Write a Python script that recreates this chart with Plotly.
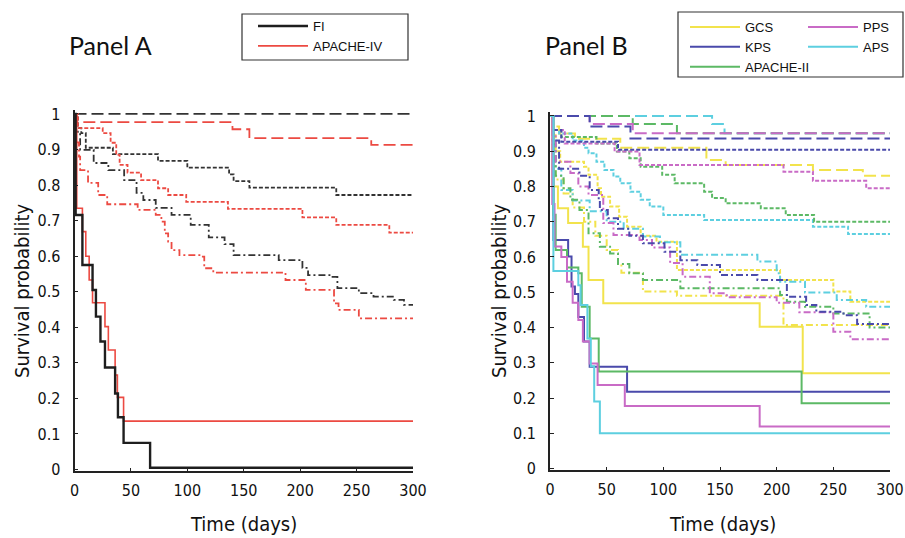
import plotly.graph_objects as go

# ---------------- DATA ----------------
# Panel A : FI (black) and APACHE-IV (red), four risk groups each
FI_LONG_T = [0, 300]
FI_LONG_S = [1.0, 1.0]
FI_DOT_T = [0, 3, 6, 10, 34, 74, 100, 137, 141, 155, 232, 300]
FI_DOT_S = [1, 0.96, 0.946, 0.905, 0.887, 0.868, 0.849, 0.83, 0.811, 0.793, 0.772, 0.772]
FI_DASHDOT_T = [0, 1, 5, 17, 30, 44, 55, 61, 72, 86, 103, 119, 133, 141, 181, 202, 207, 226, 233, 252, 265, 283, 292, 300]
FI_DASHDOT_S = [1, 0.95, 0.899, 0.862, 0.842, 0.814, 0.778, 0.758, 0.736, 0.716, 0.688, 0.653, 0.634, 0.603, 0.589, 0.567, 0.547, 0.542, 0.51, 0.496, 0.486, 0.477, 0.463, 0.463]
FI_SOLID_T = [0, 1, 7, 16, 19, 23, 27, 36, 38.5, 43.5, 67, 300]
FI_SOLID_S = [1, 0.716, 0.575, 0.505, 0.43, 0.36, 0.287, 0.214, 0.147, 0.075, 0.005, 0.005]

AP4_LONG_T = [0, 2, 140, 155, 263, 300]
AP4_LONG_S = [1, 0.977, 0.957, 0.932, 0.913, 0.913]
AP4_DOT_T = [0, 3, 25, 32, 37, 40, 47, 59, 74, 83, 99, 136, 202, 232, 279, 300]
AP4_DOT_S = [1, 0.96, 0.946, 0.919, 0.885, 0.857, 0.835, 0.814, 0.791, 0.772, 0.753, 0.733, 0.709, 0.688, 0.666, 0.666]
AP4_DASHDOT_T = [0, 1, 4, 5, 12, 21, 29, 56, 72, 77, 80, 83, 86, 93, 112, 115, 123, 187, 205, 230, 234, 252, 300]
AP4_DASHDOT_S = [1, 0.92, 0.88, 0.842, 0.806, 0.772, 0.746, 0.73, 0.716, 0.697, 0.664, 0.641, 0.617, 0.603, 0.599, 0.566, 0.554, 0.533, 0.505, 0.467, 0.449, 0.425, 0.425]
AP4_SOLID_T = [0, 2, 7, 10, 13, 16, 27, 30, 36, 38, 43.5, 300]
AP4_SOLID_S = [1, 0.735, 0.669, 0.6, 0.533, 0.469, 0.402, 0.336, 0.266, 0.203, 0.136, 0.136]

# Panel B : GCS, KPS, APACHE-II, PPS, APS
GCS_LONG_T = [0, 2, 8, 22, 62, 138, 155, 232, 276, 300]
GCS_LONG_S = [1, 0.97, 0.95, 0.935, 0.91, 0.875, 0.861, 0.847, 0.83, 0.83]
GCS_DOT_T = [0, 2, 5, 9, 30, 34, 42, 45, 53, 61, 68, 80, 94, 112, 203, 250, 265, 300]
GCS_DOT_S = [1, 0.95, 0.9, 0.87, 0.856, 0.833, 0.795, 0.771, 0.743, 0.714, 0.686, 0.66, 0.643, 0.563, 0.535, 0.502, 0.473, 0.473]
GCS_DASHDOT_T = [0, 2, 5, 12, 20, 30, 40, 50, 60, 63, 82, 112, 206, 300]
GCS_DASHDOT_S = [1, 0.9, 0.82, 0.78, 0.74, 0.7, 0.66, 0.62, 0.58, 0.555, 0.502, 0.49, 0.407, 0.407]
GCS_SOLID_T = [0, 2, 7, 16, 29, 34, 47, 185, 223, 300]
GCS_SOLID_S = [1, 0.8, 0.738, 0.696, 0.629, 0.535, 0.469, 0.402, 0.27, 0.27]

KPS_LONG_T = [0, 35, 71, 300]
KPS_LONG_S = [1, 0.97, 0.936, 0.936]
KPS_DOT_T = [0, 2, 10, 60, 300]
KPS_DOT_S = [1, 0.96, 0.927, 0.904, 0.904]
KPS_DASHDOT_T = [0, 2, 8, 26, 35, 43, 44, 51, 60, 70, 82, 101, 115, 130, 150, 183, 209, 226, 235, 259, 271, 300]
KPS_DASHDOT_S = [1, 0.93, 0.85, 0.83, 0.79, 0.762, 0.733, 0.71, 0.68, 0.66, 0.639, 0.615, 0.591, 0.577, 0.549, 0.535, 0.487, 0.464, 0.445, 0.435, 0.41, 0.41]
KPS_SOLID_T = [0, 3, 16, 19, 22, 25, 30, 35, 68, 300]
KPS_SOLID_S = [1, 0.648, 0.601, 0.516, 0.495, 0.43, 0.36, 0.289, 0.218, 0.218]

AP2_LONG_T = [0, 73, 112, 300]
AP2_LONG_S = [1, 0.977, 0.951, 0.951]
AP2_DOT_T = [0, 2, 10, 41, 59, 70, 80, 99, 110, 136, 143, 155, 186, 208, 233, 300]
AP2_DOT_S = [1, 0.96, 0.94, 0.922, 0.899, 0.88, 0.856, 0.833, 0.809, 0.785, 0.767, 0.752, 0.738, 0.719, 0.7, 0.7]
AP2_DASHDOT_T = [0, 2, 5, 12, 18, 26, 34, 44, 53, 60, 70, 82, 115, 203, 209, 225, 250, 282, 300]
AP2_DASHDOT_S = [1, 0.92, 0.83, 0.795, 0.762, 0.733, 0.667, 0.629, 0.61, 0.58, 0.554, 0.535, 0.511, 0.492, 0.473, 0.459, 0.44, 0.4, 0.4]
AP2_SOLID_T = [0, 3, 5, 15, 25, 28, 35, 43, 222, 300]
AP2_SOLID_S = [1, 0.72, 0.62, 0.57, 0.554, 0.459, 0.369, 0.275, 0.185, 0.185]

PPS_LONG_T = [0, 35, 73, 300]
PPS_LONG_S = [1, 0.977, 0.951, 0.951]
PPS_DOT_T = [0, 2, 13, 57, 79, 206, 232, 279, 300]
PPS_DOT_S = [1, 0.96, 0.922, 0.899, 0.861, 0.842, 0.816, 0.795, 0.795]
PPS_DASHDOT_T = [0, 2, 5, 18, 25, 34, 47, 56, 79, 90, 106, 117, 141, 156, 200, 220, 250, 265, 300]
PPS_DASHDOT_S = [1, 0.95, 0.87, 0.838, 0.8, 0.776, 0.696, 0.662, 0.648, 0.627, 0.583, 0.544, 0.497, 0.486, 0.47, 0.443, 0.388, 0.367, 0.367]
PPS_SOLID_T = [0, 2, 4, 10, 15, 20, 25, 29, 35, 42, 66, 185, 300]
PPS_SOLID_S = [1, 0.75, 0.63, 0.6, 0.53, 0.47, 0.421, 0.36, 0.298, 0.237, 0.177, 0.119, 0.119]

APS_LONG_T = [0, 143, 154, 300]
APS_LONG_S = [1, 0.977, 0.951, 0.951]
APS_DOT_T = [0, 2, 8, 20, 30, 34, 41, 48, 56, 62, 71, 80, 88, 100, 136, 232, 263, 300]
APS_DOT_S = [1, 0.96, 0.95, 0.93, 0.91, 0.894, 0.87, 0.847, 0.828, 0.809, 0.785, 0.762, 0.743, 0.719, 0.705, 0.686, 0.665, 0.665]
APS_DASHDOT_T = [0, 2, 5, 10, 20, 35, 50, 65, 82, 97, 115, 183, 200, 203, 225, 253, 279, 300]
APS_DASHDOT_S = [1, 0.93, 0.85, 0.79, 0.76, 0.73, 0.7, 0.68, 0.658, 0.642, 0.606, 0.587, 0.554, 0.53, 0.499, 0.478, 0.459, 0.459]
APS_SOLID_T = [0, 3, 25, 27, 33, 36, 39, 44, 300]
APS_SOLID_S = [1, 0.56, 0.52, 0.464, 0.369, 0.29, 0.19, 0.1, 0.1]

X_TICKS = [0, 50, 100, 150, 200, 250, 300]
Y_TICKS = [0, 0.1, 0.2, 0.3, 0.4, 0.5, 0.6, 0.7, 0.8, 0.9, 1]
Y_TICK_TEXT = ["0", "0.1", "0.2", "0.3", "0.4", "0.5", "0.6", "0.7", "0.8", "0.9", "1"]

# ---------------- STYLE ----------------
W, H = 905, 538
LONG = "12px,5px"
DOT = "4px,2px"
DASHDOT = "7px,3px,2px,3px"
NARROW = "Liberation Sans Narrow, DejaVu Sans Condensed, Arial Narrow, sans-serif"
SANS = "Liberation Sans, Arial, sans-serif"

C_FI = "#1e1e1e"
C_FI_D = "#333333"
C_AP4 = "#ec4a42"
C_GCS = "#f2e34c"
C_KPS = "#4a4aab"
C_AP2 = "#5cb965"
C_PPS = "#c96bc6"
C_APS = "#5dcfe0"


def fx(p):
    return p / W


def fy(p):
    return 1 - p / H


fig = go.Figure()


def add(t, s, color, dash, width, ax, name=None, legend=None, rank=1000):
    fig.add_trace(go.Scatter(
        x=t, y=s, mode="lines",
        line=dict(shape="hv", color=color, dash=dash, width=width),
        xaxis="x" if ax == 1 else "x2",
        yaxis="y" if ax == 1 else "y2",
        name=name if name else "",
        showlegend=name is not None,
        legend=legend if legend else "legend",
        legendrank=rank,
        hoverinfo="skip",
    ))


# Panel A
add(FI_LONG_T, FI_LONG_S, C_FI_D, LONG, 1.8, 1)
add(AP4_LONG_T, AP4_LONG_S, C_AP4, LONG, 1.8, 1)
add(FI_DOT_T, FI_DOT_S, C_FI_D, DOT, 1.8, 1)
add(AP4_DOT_T, AP4_DOT_S, C_AP4, DOT, 1.8, 1)
add(FI_DASHDOT_T, FI_DASHDOT_S, C_FI_D, DASHDOT, 1.8, 1)
add(AP4_DASHDOT_T, AP4_DASHDOT_S, C_AP4, DASHDOT, 1.8, 1)
add(AP4_SOLID_T, AP4_SOLID_S, C_AP4, "solid", 1.6, 1, "APACHE-IV", "legend", 2)
add(FI_SOLID_T, FI_SOLID_S, C_FI, "solid", 2.4, 1, "FI", "legend", 1)

# Panel B (dashed groups first)
for t, s, c in [(GCS_LONG_T, GCS_LONG_S, C_GCS), (APS_LONG_T, APS_LONG_S, C_APS),
                (AP2_LONG_T, AP2_LONG_S, C_AP2), (PPS_LONG_T, PPS_LONG_S, C_PPS),
                (KPS_LONG_T, KPS_LONG_S, C_KPS)]:
    add(t, s, c, LONG, 2, 2)
for t, s, c in [(GCS_DOT_T, GCS_DOT_S, C_GCS), (APS_DOT_T, APS_DOT_S, C_APS),
                (AP2_DOT_T, AP2_DOT_S, C_AP2), (PPS_DOT_T, PPS_DOT_S, C_PPS),
                (KPS_DOT_T, KPS_DOT_S, C_KPS)]:
    add(t, s, c, DOT, 2, 2)
for t, s, c in [(GCS_DASHDOT_T, GCS_DASHDOT_S, C_GCS), (APS_DASHDOT_T, APS_DASHDOT_S, C_APS),
                (AP2_DASHDOT_T, AP2_DASHDOT_S, C_AP2), (PPS_DASHDOT_T, PPS_DASHDOT_S, C_PPS),
                (KPS_DASHDOT_T, KPS_DASHDOT_S, C_KPS)]:
    add(t, s, c, DASHDOT, 2, 2)

add(GCS_SOLID_T, GCS_SOLID_S, C_GCS, "solid", 2, 2, "GCS", "legend2", 1)
add(KPS_SOLID_T, KPS_SOLID_S, C_KPS, "solid", 2, 2, "KPS", "legend2", 2)
add(AP2_SOLID_T, AP2_SOLID_S, C_AP2, "solid", 2, 2, "APACHE-II", "legend2", 3)
add(PPS_SOLID_T, PPS_SOLID_S, C_PPS, "solid", 2, 2, "PPS", "legend3", 1)
add(APS_SOLID_T, APS_SOLID_S, C_APS, "solid", 2, 2, "APS", "legend3", 2)

axis_common = dict(
    showgrid=False, zeroline=False, showline=True, linecolor="#222222", linewidth=1.6,
    ticks="inside", ticklen=4, tickcolor="#222222", tickwidth=1,
    tickfont=dict(family=NARROW, size=16, color="#111111"),
)

legend_common = dict(
    bgcolor="rgba(0,0,0,0)", borderwidth=0, orientation="v", itemwidth=50,
    font=dict(family=SANS, size=13, color="#111111"),
    xanchor="left", yanchor="top", traceorder="normal", tracegroupgap=0,
)


def note(text, x, y, size, family, angle=0):
    return dict(text=text, x=fx(x), y=fy(y), xref="paper", yref="paper", showarrow=False,
                xanchor="center", yanchor="middle", textangle=angle,
                font=dict(family=family, size=size, color="#111111"))


fig.update_layout(
    width=W, height=H,
    margin=dict(l=0, r=0, t=0, b=0, autoexpand=False),
    paper_bgcolor="white", plot_bgcolor="white",
    xaxis=dict(domain=[fx(74.5), fx(413)], range=[0, 300], tickvals=X_TICKS, anchor="y",
               ticklabelstandoff=4, **axis_common),
    yaxis=dict(domain=[fy(471.3), fy(110.4)], range=[-0.005, 1.01], tickvals=Y_TICKS, ticktext=Y_TICK_TEXT,
               anchor="x", ticklabelstandoff=9, **axis_common),
    xaxis2=dict(domain=[fx(550), fx(890)], range=[0, 300], tickvals=X_TICKS, anchor="y2",
                ticklabelstandoff=4, **axis_common),
    yaxis2=dict(domain=[fy(470.3), fy(112.4)], range=[-0.005, 1.01], tickvals=Y_TICKS, ticktext=Y_TICK_TEXT,
                anchor="x2", ticklabelstandoff=9, **axis_common),
    legend=dict(x=fx(253), y=fy(11), **legend_common),
    legend2=dict(x=fx(685), y=fy(12), **legend_common),
    legend3=dict(x=fx(803), y=fy(12), **legend_common),
    shapes=[
        dict(type="rect", xref="paper", yref="paper", x0=fx(242), x1=fx(408), y0=fy(60), y1=fy(14),
             line=dict(color="#333333", width=1.2)),
        dict(type="rect", xref="paper", yref="paper", x0=fx(678), x1=fx(903), y0=fy(77), y1=fy(12),
             line=dict(color="#333333", width=1.2)),
    ],
    annotations=[
        note("Panel A", 110, 45, 25, "Lato, Noto Sans, sans-serif"),
        note("Panel B", 586, 45, 25, "Lato, Noto Sans, sans-serif"),
        note("Survival probability", 22, 291, 20, NARROW, -90),
        note("Survival probability", 499, 291, 20, NARROW, -90),
        note("Time (days)", 243, 524, 20, NARROW),
        note("Time (days)", 722, 524, 20, NARROW),
    ],
)

fig.write_html("out.html", config={"displayModeBar": False},
               post_script="document.body.style.margin='0px';document.body.style.padding='0px';")
